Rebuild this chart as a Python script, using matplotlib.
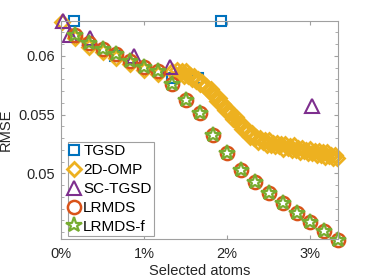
import numpy as np
import matplotlib
matplotlib.use('Agg')
import matplotlib.pyplot as plt
from matplotlib.ticker import MultipleLocator, FuncFormatter

plt.rcParams['font.family'] = ['Liberation Sans', 'DejaVu Sans']

# data (x as fraction of atoms, y = RMSE)
tgsd_x = [0.00157, 0.0065, 0.0134, 0.0165, 0.0192]
tgsd_y = [0.0630, 0.0600, 0.05813, 0.0581, 0.0630]

omp_x_left = [0.0001, 0.00167, 0.00333, 0.0050, 0.00667, 0.00833, 0.0100, 0.01167, 0.01333]
omp_y_left = [0.0629, 0.0615, 0.0608, 0.0603, 0.0598, 0.0593, 0.0588, 0.0585, 0.0587]
omp_x_band = [k / 4000 for k in range(56, 134)]  # 1.4% .. 3.325%
omp_y_band = [0.0588, 0.0585, 0.0587, 0.0583, 0.0587, 0.0583, 0.0584, 0.0580,
              0.0583, 0.0579, 0.0580, 0.0576, 0.0578, 0.0574, 0.0574, 0.0570,
              0.0572, 0.0567, 0.0567, 0.0562, 0.0564, 0.0559, 0.0559, 0.0554,
              0.0556, 0.0551, 0.0551, 0.0546, 0.0548, 0.0543, 0.0543, 0.0538,
              0.0540, 0.0535, 0.0536, 0.0531, 0.0534, 0.0530, 0.0531, 0.0527,
              0.0530, 0.0527, 0.0528, 0.0524, 0.0528, 0.0524, 0.0526, 0.0523,
              0.0526, 0.0523, 0.0525, 0.0521, 0.0525, 0.0522, 0.0523, 0.0520,
              0.0524, 0.0520, 0.0522, 0.0518, 0.0522, 0.0519, 0.0520, 0.0517,
              0.0521, 0.0517, 0.0519, 0.0516, 0.0519, 0.0516, 0.0518, 0.0514,
              0.0518, 0.0515, 0.0516, 0.0513, 0.0516, 0.0513]
omp_x = omp_x_left + omp_x_band
omp_y = omp_y_left + omp_y_band

sc_x = [0.0003, 0.0011, 0.0035, 0.0088, 0.0131, 0.0302]
sc_y = [0.0630, 0.0618, 0.0615, 0.0600, 0.0591, 0.0557]

lr_x = [k / 600 for k in range(1, 21)]
lr_y = [0.06179, 0.06111, 0.06060, 0.06017, 0.05957, 0.05906, 0.05872, 0.05761, 0.05625, 0.05514,
        0.05327, 0.05173, 0.05029, 0.04926, 0.04833, 0.04748, 0.04663, 0.04586, 0.04509, 0.04432]
lrf_x = lr_x
lrf_y = lr_y

xticks = [0, 0.01, 0.02, 0.03]
yticks = [0.05, 0.055, 0.06]

fig = plt.figure(figsize=(3.74, 2.8), dpi=100)
ax = fig.add_axes([0.163, 0.146, 0.741, 0.78])

kw = dict(linestyle='none', markerfacecolor='none', clip_on=False)
ax.plot(tgsd_x, tgsd_y, marker='s', color='#0072BD', markersize=7.5, markeredgewidth=1.5, label='TGSD', **kw)
ax.plot(omp_x, omp_y, marker='D', color='#EDB120', markersize=7.5, markeredgewidth=2.0, label='2D-OMP', **kw)
ax.plot(sc_x, sc_y, marker='^', color='#7E2F8E', markersize=10.5, markeredgewidth=1.5, label='SC-TGSD', **kw)
ax.plot(lr_x, lr_y, marker='o', color='#D95319', markersize=9.5, markeredgewidth=1.8, label='LRMDS', **kw)
ax.plot(lrf_x, lrf_y, marker='*', color='#77AC30', markersize=11.5, markeredgewidth=1.6, label='LRMDS-f', **kw)

ax.set_xlim(0, 1 / 30)
ax.set_ylim(0.0444, 0.0630)
ax.set_xticks(xticks)
ax.xaxis.set_major_formatter(FuncFormatter(lambda v, p: '%d%%' % round(v * 100)))
ax.set_yticks(yticks)
ax.set_yticklabels(['0.05', '0.055', '0.06'])
ax.yaxis.set_minor_locator(MultipleLocator(0.001))
ax.tick_params(which='both', direction='in', top=True, right=True, colors='#a0a0a0',
               labelcolor='#262626', labelsize=10.5)
ax.tick_params(which='major', length=3)
ax.tick_params(which='minor', length=2)
ax.tick_params(axis='x', pad=6)
ax.tick_params(axis='y', pad=4)
for s in ax.spines.values():
    s.set_color('#a0a0a0')
    s.set_linewidth(0.8)

ax.set_xlabel('Selected atoms', fontsize=10.5, color='#262626', labelpad=2)
ax.set_ylabel('RMSE', fontsize=10.5, color='#262626', labelpad=4)

leg = ax.legend(loc='lower left', bbox_to_anchor=(0.025, 0.014), borderaxespad=0, fontsize=11,
                handlelength=0.55, handletextpad=0.3, labelspacing=0.32, borderpad=0.15,
                fancybox=False, framealpha=1)
leg.get_frame().set_edgecolor('#a0a0a0')
leg.get_frame().set_linewidth(0.8)

fig.savefig('out.png', dpi=100)
